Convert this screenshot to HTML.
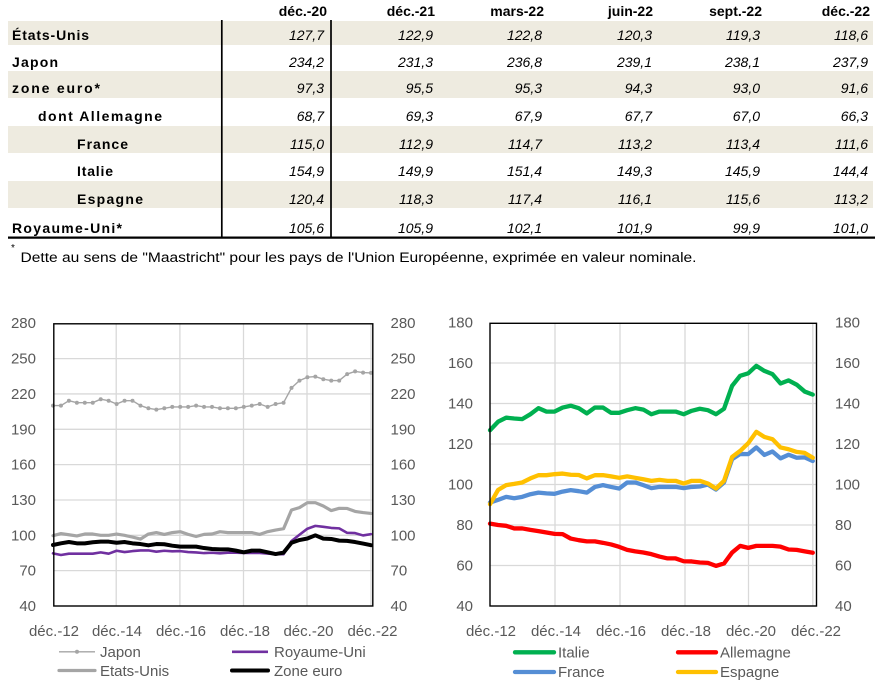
<!DOCTYPE html>
<html>
<head>
<meta charset="utf-8">
<style>
html,body{margin:0;padding:0;background:#fff;}
svg{display:block;}
.hd{font-family:"Liberation Sans",Arial,sans-serif;font-weight:bold;font-size:14px;fill:#000;}
.lb{font-family:"Liberation Sans",Arial,sans-serif;font-weight:bold;font-size:14px;fill:#000;}
.vl{font-family:"Liberation Sans",Arial,sans-serif;font-style:italic;font-size:14px;fill:#000;text-anchor:end;}
.ax{font-family:"Liberation Sans",Arial,sans-serif;font-size:15px;fill:#595959;}
.fn{font-family:"Liberation Sans",Arial,sans-serif;font-size:13.5px;fill:#000;}
</style>
</head>
<body>
<svg width="885" height="689" viewBox="0 0 885 689" xmlns="http://www.w3.org/2000/svg">
<rect width="885" height="689" fill="#fff"/>

<!-- TABLE -->
<g fill="#eeebe0">
<rect x="8" y="21" width="865" height="24"/>
<rect x="8" y="71" width="865" height="27"/>
<rect x="8" y="126" width="865" height="27"/>
<rect x="8" y="181" width="865" height="27"/>
</g>
<g class="hd" text-anchor="end">
<text x="327" y="16">déc.-20</text>
<text x="435" y="16">déc.-21</text>
<text x="544" y="16">mars-22</text>
<text x="653" y="16">juin-22</text>
<text x="762" y="16">sept.-22</text>
<text x="870" y="16">déc.-22</text>
</g>
<g class="lb">
<text x="12" y="40" textLength="77" lengthAdjust="spacing">États-Unis</text>
<text x="12" y="67" textLength="46" lengthAdjust="spacing">Japon</text>
<text x="12" y="93" textLength="88" lengthAdjust="spacing">zone euro*</text>
<text x="38" y="121" textLength="124" lengthAdjust="spacing">dont Allemagne</text>
<text x="77" y="149" textLength="51" lengthAdjust="spacing">France</text>
<text x="77" y="176" textLength="36" lengthAdjust="spacing">Italie</text>
<text x="77" y="204" textLength="66" lengthAdjust="spacing">Espagne</text>
<text x="12" y="233" textLength="110" lengthAdjust="spacing">Royaume-Uni*</text>
</g>
<g class="vl">
<text x="324" y="40">127,7</text><text x="433" y="40">122,9</text><text x="542" y="40">122,8</text><text x="652" y="40">120,3</text><text x="760" y="40">119,3</text><text x="868" y="40">118,6</text>
<text x="324" y="67">234,2</text><text x="433" y="67">231,3</text><text x="542" y="67">236,8</text><text x="652" y="67">239,1</text><text x="760" y="67">238,1</text><text x="868" y="67">237,9</text>
<text x="324" y="93">97,3</text><text x="433" y="93">95,5</text><text x="542" y="93">95,3</text><text x="652" y="93">94,3</text><text x="760" y="93">93,0</text><text x="868" y="93">91,6</text>
<text x="324" y="121">68,7</text><text x="433" y="121">69,3</text><text x="542" y="121">67,9</text><text x="652" y="121">67,7</text><text x="760" y="121">67,0</text><text x="868" y="121">66,3</text>
<text x="324" y="149">115,0</text><text x="433" y="149">112,9</text><text x="542" y="149">114,7</text><text x="652" y="149">113,2</text><text x="760" y="149">113,4</text><text x="868" y="149">111,6</text>
<text x="324" y="176">154,9</text><text x="433" y="176">149,9</text><text x="542" y="176">151,4</text><text x="652" y="176">149,3</text><text x="760" y="176">145,9</text><text x="868" y="176">144,4</text>
<text x="324" y="204">120,4</text><text x="433" y="204">118,3</text><text x="542" y="204">117,4</text><text x="652" y="204">116,1</text><text x="760" y="204">115,6</text><text x="868" y="204">113,2</text>
<text x="324" y="233">105,6</text><text x="433" y="233">105,9</text><text x="542" y="233">102,1</text><text x="652" y="233">101,9</text><text x="760" y="233">99,9</text><text x="868" y="233">101,0</text>
</g>
<line x1="221.8" y1="20" x2="221.8" y2="237" stroke="#000" stroke-width="1.7"/>
<line x1="331" y1="20" x2="331" y2="237" stroke="#000" stroke-width="1.7"/>
<line x1="8" y1="237.6" x2="875" y2="237.6" stroke="#000" stroke-width="2.2"/>

<!-- footnote -->
<text x="11" y="251" style="font-family:'Liberation Sans',Arial,sans-serif;font-size:10px;fill:#000">*</text>
<text class="fn" x="20.5" y="262" textLength="676" lengthAdjust="spacingAndGlyphs">Dette au sens de "Maastricht" pour les pays de l'Union Européenne, exprimée en valeur nominale.</text>

<!-- LEFT CHART -->
<g stroke="#d9d9d9" stroke-width="1.3">
<line x1="53.5" y1="358.62" x2="373" y2="358.62"/>
<line x1="53.5" y1="393.96" x2="373" y2="393.96"/>
<line x1="53.5" y1="429.3" x2="373" y2="429.3"/>
<line x1="53.5" y1="464.64" x2="373" y2="464.64"/>
<line x1="53.5" y1="499.98" x2="373" y2="499.98"/>
<line x1="53.5" y1="535.3" x2="373" y2="535.3"/>
<line x1="53.5" y1="570.66" x2="373" y2="570.66"/>
<line x1="116.2" y1="323.5" x2="116.2" y2="606"/>
<line x1="179.9" y1="323.5" x2="179.9" y2="606"/>
<line x1="243.5" y1="323.5" x2="243.5" y2="606"/>
<line x1="307" y1="323.5" x2="307" y2="606"/>
<line x1="371" y1="323.5" x2="371" y2="606"/>
</g>

<!-- Japon -->
<polyline fill="none" stroke="#a5a5a5" stroke-width="1.4" stroke-linejoin="round" points="53,405.6 60.95,405.6 68.9,400.7 76.85,402.7 84.8,402.7 92.75,402.7 100.7,399.2 108.65,400.7 116.6,404.0 124.55,400.7 132.5,400.7 140.45,405.6 148.4,408.3 156.35,409.6 164.3,408.3 172.25,406.9 180.2,406.9 188.15,406.9 196.1,405.6 204.05,406.9 212,406.9 219.95,408.3 227.9,408.3 235.85,408.3 243.8,406.9 251.75,405.6 259.7,404.0 267.65,406.9 275.6,404.0 283.55,402.7 291.5,387.9 299.45,380.6 307.4,377.2 315.35,376.6 323.3,379.2 331.25,380.6 339.2,380.6 347.15,374.1 355.1,371.4 363.05,372.6 371,372.9"/>
<path fill="none" stroke="#a5a5a5" stroke-width="4" stroke-linecap="round" d="M53,405.6h0.01M60.95,405.6h0.01M68.9,400.7h0.01M76.85,402.7h0.01M84.8,402.7h0.01M92.75,402.7h0.01M100.7,399.2h0.01M108.65,400.7h0.01M116.6,404.0h0.01M124.55,400.7h0.01M132.5,400.7h0.01M140.45,405.6h0.01M148.4,408.3h0.01M156.35,409.6h0.01M164.3,408.3h0.01M172.25,406.9h0.01M180.2,406.9h0.01M188.15,406.9h0.01M196.1,405.6h0.01M204.05,406.9h0.01M212,406.9h0.01M219.95,408.3h0.01M227.9,408.3h0.01M235.85,408.3h0.01M243.8,406.9h0.01M251.75,405.6h0.01M259.7,404.0h0.01M267.65,406.9h0.01M275.6,404.0h0.01M283.55,402.7h0.01M291.5,387.9h0.01M299.45,380.6h0.01M307.4,377.2h0.01M315.35,376.6h0.01M323.3,379.2h0.01M331.25,380.6h0.01M339.2,380.6h0.01M347.15,374.1h0.01M355.1,371.4h0.01M363.05,372.6h0.01M371,372.9h0.01"/>

<g transform="matrix(7.95 0 0 -1.178 53 653.12)" fill="none" stroke-linejoin="round" stroke-linecap="round">
<!-- Royaume-Uni -->
<polyline vector-effect="non-scaling-stroke" stroke="#7030a0" stroke-width="2.6" points="0,84.7 1,83.3 2,84.4 3,84.4 4,84.4 5,84.4 6,85.5 7,84.4 8,86.9 9,85.8 10,86.6 11,87.2 12,87.2 13,86.1 14,86.9 15,86.4 16,86.6 17,85.8 18,85.5 19,84.9 20,85.2 21,84.7 22,85.2 23,85.2 24,85.0 25,85.0 26,85.0 27,84.5 28,84.0 29,84.0 30,95.2 31,100.5 32,105.6 33,108.0 34,107.2 35,106.3 36,105.9 37,102.1 38,101.9 39,99.9 40,101.0"/>
<!-- Etats-Unis -->
<polyline vector-effect="non-scaling-stroke" stroke="#a5a5a5" stroke-width="3.2" points="0,99.7 1,101.5 2,100.5 3,99.5 4,101.1 5,101.1 6,100 7,100 8,101.1 9,100 10,98.5 11,96.8 12,101.1 13,102.3 14,100.8 15,102.3 16,103.1 17,100.8 18,99 19,100.8 20,101.1 21,103.1 22,102.3 23,102.3 24,102.3 25,102.3 26,100.8 27,103.1 28,104.5 29,105.6 30,121.5 31,123.5 32,127.7 33,127.7 34,124.9 35,121 36,122.9 37,122.8 38,120.3 39,119.3 40,118.6"/>
<!-- Zone euro -->
<polyline vector-effect="non-scaling-stroke" stroke="#000" stroke-width="4" points="0,91.8 1,93.2 2,94.3 3,93.2 4,93.2 5,94.1 6,94.6 7,94.6 8,93.7 9,94.3 10,93.2 11,92.6 12,91.5 13,92.6 14,92.4 15,91.2 16,90.4 17,90.4 18,90.4 19,89.2 20,88.4 21,88.1 22,88.1 23,87 24,85.6 25,87 26,87 27,85.6 28,84.1 29,85.3 30,93.7 31,96 32,97.3 33,100 34,97.2 35,96.9 36,95.5 37,95.3 38,94.3 39,93.0 40,91.6"/>
</g>

<rect x="53.8" y="323.8" width="319" height="282.2" fill="none" stroke="#000" stroke-width="1.4"/>

<g class="ax" text-anchor="end">
<text x="36" y="328">280</text>
<text x="36" y="363.5">250</text>
<text x="36" y="399">220</text>
<text x="36" y="434.3">190</text>
<text x="36" y="469.6">160</text>
<text x="36" y="505">130</text>
<text x="36" y="540.3">100</text>
<text x="36" y="575.6">70</text>
<text x="36" y="611">40</text>
</g>
<g class="ax" text-anchor="start">
<text x="390.5" y="328">280</text>
<text x="390.5" y="363.5">250</text>
<text x="390.5" y="399">220</text>
<text x="390.5" y="434.3">190</text>
<text x="390.5" y="469.6">160</text>
<text x="390.5" y="505">130</text>
<text x="390.5" y="540.3">100</text>
<text x="390.5" y="575.6">70</text>
<text x="390.5" y="611">40</text>
</g>
<g class="ax" text-anchor="middle">
<text x="54" y="636">déc.-12</text>
<text x="117" y="636">déc.-14</text>
<text x="181" y="636">déc.-16</text>
<text x="245" y="636">déc.-18</text>
<text x="308.5" y="636">déc.-20</text>
<text x="372.5" y="636">déc.-22</text>
</g>
<!-- left legend -->
<line x1="59" y1="651.8" x2="95" y2="651.8" stroke="#a5a5a5" stroke-width="1.4"/>
<circle cx="77" cy="651.8" r="2" fill="#a5a5a5"/>
<text class="ax" x="100" y="657">Japon</text>
<line x1="232" y1="651.8" x2="268" y2="651.8" stroke="#7030a0" stroke-width="2.6"/>
<text class="ax" x="274" y="657">Royaume-Uni</text>
<line x1="59" y1="670.5" x2="95" y2="670.5" stroke="#a5a5a5" stroke-width="3.2" stroke-linecap="round"/>
<text class="ax" x="100" y="676">Etats-Unis</text>
<line x1="232" y1="670.5" x2="268" y2="670.5" stroke="#000" stroke-width="4" stroke-linecap="round"/>
<text class="ax" x="274" y="676">Zone euro</text>

<!-- RIGHT CHART -->
<g stroke="#d9d9d9" stroke-width="1.3">
<line x1="490" y1="363" x2="816.5" y2="363"/>
<line x1="490" y1="403.5" x2="816.5" y2="403.5"/>
<line x1="490" y1="444" x2="816.5" y2="444"/>
<line x1="490" y1="484.5" x2="816.5" y2="484.5"/>
<line x1="490" y1="525" x2="816.5" y2="525"/>
<line x1="490" y1="565.5" x2="816.5" y2="565.5"/>
<line x1="555" y1="323" x2="555" y2="606"/>
<line x1="620" y1="323" x2="620" y2="606"/>
<line x1="685" y1="323" x2="685" y2="606"/>
<line x1="748.5" y1="323" x2="748.5" y2="606"/>
<line x1="812.8" y1="323" x2="812.8" y2="606"/>
</g>
<g transform="matrix(8.07 0 0 -2.025 490 687)" fill="none" stroke-linejoin="round" stroke-linecap="round">
<!-- Italie -->
<polyline vector-effect="non-scaling-stroke" stroke="#00b050" stroke-width="4.3" points="0,126.8 1,131 2,133 3,132.6 4,132.3 5,134.7 6,137.7 7,136 8,136 9,138 10,138.9 11,137.7 12,135.1 13,138 14,138 15,135.4 16,135.4 17,136.7 18,137.7 19,137 20,134.7 21,136 22,136 23,136 24,134.7 25,136.4 26,137.4 27,136.7 28,134.7 29,137.4 30,148.7 31,153.7 32,154.9 33,158.6 34,156.1 35,154.5 36,149.9 37,151.4 38,149.3 39,145.9 40,144.4"/>
<!-- Allemagne -->
<polyline vector-effect="non-scaling-stroke" stroke="#ff0000" stroke-width="4.3" points="0,80.7 1,80 2,79.6 3,78.3 4,78.3 5,77.6 6,77 7,76.3 8,75.6 9,75.5 10,73.3 11,72.5 12,71.9 13,71.9 14,71.2 15,70.4 16,69.2 17,67.7 18,67 19,66.4 20,65.6 21,64.4 22,63.5 23,63.5 24,62.1 25,62 26,61.5 27,61.3 28,59.8 29,61 30,66.4 31,69.7 32,68.7 33,69.7 34,69.7 35,69.7 36,69.3 37,67.9 38,67.7 39,67.0 40,66.3"/>
<!-- France -->
<polyline vector-effect="non-scaling-stroke" stroke="#558ed5" stroke-width="4.3" points="0,91.1 1,92.4 2,93.9 3,93.2 4,93.9 5,95.2 6,96 7,95.6 8,95.4 9,96.5 10,97.2 11,96.7 12,96 13,98.8 14,99.7 15,98.8 16,98 17,101 18,101 19,99.7 20,98.2 21,98.8 22,98.8 23,98.8 24,98.2 25,98.8 26,99 27,100 28,97.5 29,101 30,112.5 31,115.1 32,115.0 33,118.3 34,114.6 35,116.3 36,112.9 37,114.7 38,113.2 39,113.4 40,111.6"/>
<!-- Espagne -->
<polyline vector-effect="non-scaling-stroke" stroke="#ffc000" stroke-width="4.3" points="0,90.3 1,97.3 2,99.7 3,100.3 4,101 5,103 6,104.6 7,104.6 8,105.1 9,105.4 10,104.8 11,104.7 12,103 13,104.6 14,104.6 15,104 16,103.3 17,104 18,103.3 19,102.6 20,101.8 21,102.3 22,101.8 23,101.8 24,100.5 25,101.8 26,101.8 27,100.5 28,98 29,101.8 30,113.6 31,116.6 32,120.4 33,126 34,123.5 35,122.4 36,118.3 37,117.4 38,116.1 39,115.6 40,113.2"/>
</g>
<rect x="490" y="323.3" width="326.5" height="282.7" fill="none" stroke="#000" stroke-width="1.4"/>

<g class="ax" text-anchor="end">
<text x="473" y="327.5">180</text>
<text x="473" y="368">160</text>
<text x="473" y="408.5">140</text>
<text x="473" y="449">120</text>
<text x="473" y="489.5">100</text>
<text x="473" y="530">80</text>
<text x="473" y="570.5">60</text>
<text x="473" y="611">40</text>
</g>
<g class="ax" text-anchor="start">
<text x="835" y="327.5">180</text>
<text x="835" y="368">160</text>
<text x="835" y="408.5">140</text>
<text x="835" y="449">120</text>
<text x="835" y="489.5">100</text>
<text x="835" y="530">80</text>
<text x="835" y="570.5">60</text>
<text x="835" y="611">40</text>
</g>
<g class="ax" text-anchor="middle">
<text x="491" y="636">déc.-12</text>
<text x="556" y="636">déc.-14</text>
<text x="621" y="636">déc.-16</text>
<text x="686" y="636">déc.-18</text>
<text x="751" y="636">déc.-20</text>
<text x="816" y="636">déc.-22</text>
</g>
<!-- right legend -->
<line x1="515" y1="652.3" x2="554" y2="652.3" stroke="#00b050" stroke-width="4.3" stroke-linecap="round"/>
<text class="ax" x="558" y="657.5">Italie</text>
<line x1="678" y1="652.3" x2="716" y2="652.3" stroke="#ff0000" stroke-width="4.3" stroke-linecap="round"/>
<text class="ax" x="720" y="657.5">Allemagne</text>
<line x1="515" y1="672" x2="554" y2="672" stroke="#558ed5" stroke-width="4.3" stroke-linecap="round"/>
<text class="ax" x="558" y="677">France</text>
<line x1="678" y1="672" x2="716" y2="672" stroke="#ffc000" stroke-width="4.3" stroke-linecap="round"/>
<text class="ax" x="720" y="677">Espagne</text>
</svg>
</body>
</html>
